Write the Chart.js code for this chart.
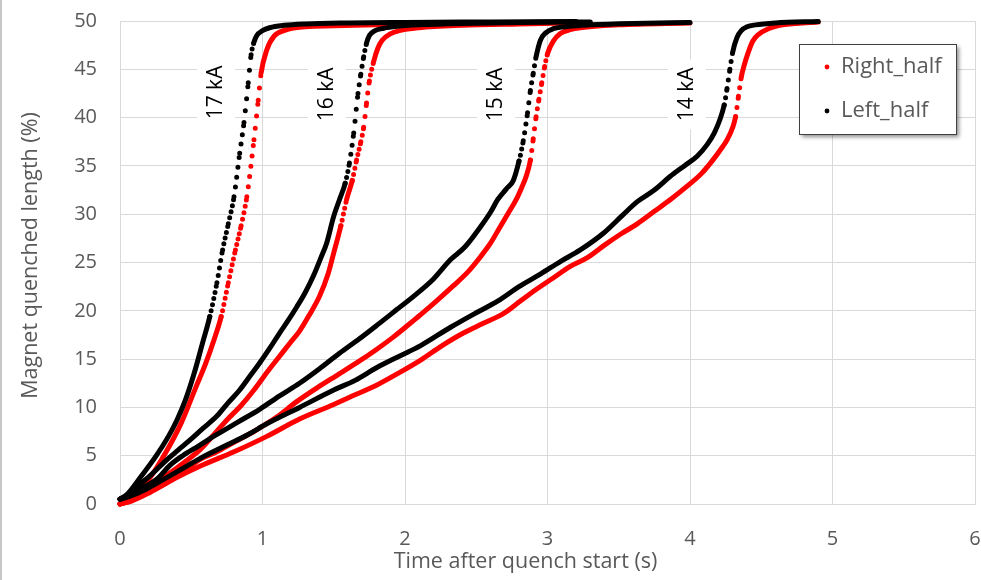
<!DOCTYPE html>
<html lang="en">
<head>
<meta charset="UTF-8">
<title>Quench propagation</title>
<script src="https://cdn.jsdelivr.net/npm/chart.js"></script>
<style>
  html, body { margin: 0; padding: 0; background: #fff; }
  #wrap { width: 981px; height: 580px; }
</style>
</head>
<body>
<div id="wrap"><canvas id="quenchChart" width="981" height="580"></canvas></div>
<script>
// time (s) and quenched length (%), one pair of arrays per curve
const t17R = [0, 0.05, 0.12, 0.20, 0.32, 0.43, 0.53, 0.60, 0.66, 0.71, 0.76, 0.81, 0.85, 0.89, 0.94, 0.97, 0.99, 1.03, 1.08, 1.17, 1.3, 1.5, 1.8, 2.2, 2.6, 3.2];
const q17R = [0, 0.3, 1.2, 2.5, 5.3, 8.4, 12.0, 14.5, 17.0, 19.4, 22.9, 26.3, 28.8, 31.8, 37.7, 41.8, 44.6, 47.0, 48.4, 49.1, 49.4, 49.5, 49.6, 49.7, 49.8, 49.85];
const t17L = [0, 0.05, 0.15, 0.25, 0.34, 0.40, 0.46, 0.52, 0.58, 0.63, 0.68, 0.72, 0.76, 0.80, 0.84, 0.87, 0.90, 0.92, 0.94, 0.96, 1.00, 1.05, 1.15, 1.3, 1.6, 2.0, 2.6, 3.2];
const q17L = [0.5, 1.0, 2.9, 4.9, 7.0, 8.7, 10.8, 13.5, 16.7, 19.4, 22.9, 26.3, 29.0, 31.8, 36.3, 39.5, 43.6, 46.5, 47.8, 48.5, 49.0, 49.3, 49.55, 49.7, 49.8, 49.85, 49.9, 49.95];

const t16R = [0, 0.06, 0.15, 0.25, 0.33, 0.45, 0.56, 0.66, 0.75, 0.85, 0.94, 1.04, 1.12, 1.20, 1.26, 1.33, 1.40, 1.46, 1.50, 1.55, 1.59, 1.63, 1.66, 1.69, 1.71, 1.73, 1.75, 1.78, 1.81, 1.84, 1.90, 1.96, 2.1, 2.4, 2.8, 3.3];
const q16R = [0, 0.3, 1.2, 2.2, 3.0, 4.3, 5.6, 7.2, 8.7, 10.2, 11.8, 13.8, 15.3, 16.8, 17.9, 19.6, 21.5, 23.8, 26.0, 28.8, 31.5, 33.5, 35.6, 37.5, 39.0, 41.5, 43.8, 45.8, 47.2, 48.0, 48.7, 49.0, 49.3, 49.55, 49.7, 49.85];
const t16L = [0, 0.05, 0.12, 0.21, 0.33, 0.41, 0.49, 0.58, 0.68, 0.76, 0.84, 0.92, 0.98, 1.05, 1.12, 1.18, 1.24, 1.30, 1.36, 1.41, 1.45, 1.50, 1.54, 1.58, 1.61, 1.64, 1.67, 1.69, 1.71, 1.73, 1.75, 1.79, 1.85, 1.95, 2.1, 2.4, 2.8, 3.3];
const q16L = [0.5, 0.9, 1.8, 2.9, 4.6, 5.6, 6.6, 7.8, 9.1, 10.5, 11.8, 13.4, 14.6, 16.1, 17.7, 19.0, 20.4, 21.9, 23.7, 25.5, 27.0, 29.8, 31.5, 33.2, 35.3, 38.4, 42.5, 44.5, 46.3, 47.7, 48.5, 49.0, 49.25, 49.45, 49.6, 49.75, 49.85, 49.9];

const t15R = [0, 0.07, 0.18, 0.33, 0.45, 0.56, 0.68, 0.79, 0.95, 1.10, 1.24, 1.38, 1.52, 1.66, 1.80, 1.92, 2.02, 2.11, 2.22, 2.34, 2.44, 2.53, 2.60, 2.66, 2.72, 2.78, 2.82, 2.85, 2.88, 2.90, 2.92, 2.94, 2.96, 2.98, 3.00, 3.04, 3.09, 3.16, 3.23, 3.5, 4.0];
const q15R = [0, 0.3, 1.1, 2.2, 3.4, 4.6, 5.4, 6.3, 7.6, 9.0, 10.6, 12.0, 13.3, 14.6, 16.0, 17.3, 18.5, 19.6, 21.0, 22.6, 24.0, 25.6, 27.0, 28.5, 30.0, 31.5, 32.8, 33.9, 35.6, 37.8, 40.1, 41.9, 43.6, 45.3, 46.6, 47.9, 48.7, 49.1, 49.3, 49.6, 49.8];
const t15L = [0, 0.06, 0.15, 0.26, 0.35, 0.44, 0.55, 0.68, 0.83, 0.98, 1.12, 1.26, 1.40, 1.54, 1.68, 1.82, 1.94, 2.06, 2.20, 2.32, 2.42, 2.53, 2.60, 2.65, 2.71, 2.76, 2.80, 2.83, 2.86, 2.88, 2.90, 2.92, 2.95, 2.99, 3.04, 3.15, 3.3, 3.6, 4.0];
const q15L = [0.5, 0.8, 1.6, 2.6, 4.0, 5.0, 6.0, 7.2, 8.5, 9.8, 11.2, 12.5, 14.0, 15.6, 17.1, 18.7, 20.1, 21.5, 23.3, 25.3, 26.6, 28.7, 30.2, 31.5, 32.6, 33.5, 35.5, 37.6, 40.5, 42.8, 44.6, 46.3, 48.0, 48.8, 49.2, 49.45, 49.6, 49.75, 49.85];

const t14R = [0, 0.08, 0.21, 0.38, 0.56, 0.80, 1.03, 1.26, 1.50, 1.65, 1.80, 1.96, 2.11, 2.25, 2.41, 2.55, 2.69, 2.80, 2.92, 3.04, 3.16, 3.28, 3.40, 3.52, 3.63, 3.75, 3.87, 3.98, 4.08, 4.16, 4.22, 4.26, 4.30, 4.32, 4.34, 4.36, 4.38, 4.41, 4.44, 4.48, 4.55, 4.65, 4.9];
const q14R = [0, 0.3, 1.2, 2.6, 3.9, 5.4, 7.0, 8.8, 10.3, 11.3, 12.3, 13.6, 14.9, 16.3, 17.7, 18.7, 19.7, 20.9, 22.2, 23.4, 24.6, 25.5, 26.8, 28.0, 29.0, 30.3, 31.6, 32.9, 34.2, 35.6, 36.8, 37.7, 39.0, 40.1, 42.2, 44.2, 45.4, 46.8, 47.9, 48.6, 49.2, 49.6, 49.9];
const t14L = [0, 0.07, 0.18, 0.30, 0.42, 0.56, 0.75, 0.90, 1.03, 1.26, 1.50, 1.65, 1.80, 1.96, 2.11, 2.32, 2.50, 2.65, 2.80, 2.95, 3.09, 3.23, 3.39, 3.52, 3.63, 3.75, 3.86, 3.96, 4.05, 4.12, 4.17, 4.21, 4.24, 4.26, 4.28, 4.30, 4.33, 4.36, 4.40, 4.46, 4.6, 4.9];
const q14L = [0.5, 0.8, 1.5, 2.5, 3.5, 4.7, 6.1, 7.2, 8.3, 10.0, 11.8, 12.8, 14.1, 15.3, 16.4, 18.3, 19.8, 21.0, 22.5, 23.8, 25.1, 26.3, 28.0, 29.8, 31.3, 32.5, 33.9, 35.0, 36.0, 37.2, 38.4, 39.8, 41.3, 43.0, 45.0, 46.8, 48.3, 49.0, 49.4, 49.6, 49.8, 49.95];

const xTicks = [0, 1, 2, 3, 4, 5, 6];
const yTicks = [0, 5, 10, 15, 20, 25, 30, 35, 40, 45, 50];
const currentLabels = ['17 kA', '16 kA', '15 kA', '14 kA'];
const legendLabels = ['Right_half', 'Left_half'];
const xTitle = 'Time after quench start (s)';
const yTitle = 'Magnet quenched length (%)';

const RED = '#ff0000';
const BLACK = '#000000';
const GREY_TEXT = '#595959';
const GRID = '#d9d9d9';
const FONT = "'Open Sans', sans-serif";

// where each current label sits (data units)
const labelAt = [[0.674, 42.6], [1.453, 42.4], [2.639, 42.4], [3.979, 42.4]];

// the logger wrote a sample about every 9 ms, so fast parts show up as loose dots
const SAMPLE_STEP = 0.009;

function pairs(t, q) {
    return t.map((x, i) => ({ x: x, y: q[i] }));
}

function dotted(c) {
    const dt = c.p1.parsed.x - c.p0.parsed.x;
    if (!(dt > 0)) return undefined;
    const len = Math.hypot(c.p1.x - c.p0.x, c.p1.y - c.p0.y);
    const gap = len / dt * SAMPLE_STEP;
    return gap > 5.5 ? [0, gap] : undefined;
}

function curve(t, q, color) {
    return {
        data: pairs(t, q),
        showLine: true,
        borderColor: color,
        backgroundColor: color,
        borderWidth: 5,
        borderCapStyle: 'round',
        borderJoinStyle: 'round',
        cubicInterpolationMode: 'monotone',
        pointRadius: 0,
        pointHoverRadius: 0,
        clip: false,
        segment: { borderDash: dotted }
    };
}

// black first so it sits on top, like the original
const datasets = [
    curve(t17L, q17L, BLACK),
    curve(t16L, q16L, BLACK),
    curve(t15L, q15L, BLACK),
    curve(t14L, q14L, BLACK),
    curve(t17R, q17R, RED),
    curve(t16R, q16R, RED),
    curve(t15R, q15R, RED),
    curve(t14R, q14R, RED)
];

const decor = {
    id: 'decor',
    beforeDatasetsDraw(chart) {
        const ctx = chart.ctx;
        const xs = chart.scales.x, ys = chart.scales.y;
        ctx.save();
        ctx.font = '21px ' + FONT;
        ctx.textAlign = 'center';
        ctx.textBaseline = 'middle';
        currentLabels.forEach((txt, i) => {
            const px = xs.getPixelForValue(labelAt[i][0]);
            const py = ys.getPixelForValue(labelAt[i][1]);
            const w = ctx.measureText(txt).width;
            ctx.save();
            ctx.translate(px, py);
            ctx.rotate(-Math.PI / 2);
            ctx.fillStyle = '#fff';
            ctx.fillRect(-w / 2 - 8, -19, w + 16, 38);
            ctx.fillStyle = '#000';
            ctx.fillText(txt, 0, 0);
            ctx.restore();
        });
        ctx.restore();
    },
    afterDraw(chart) {
        const ctx = chart.ctx;
        const area = chart.chartArea;

        // axis titles (Excel puts them a little off the plot centre)
        ctx.save();
        ctx.fillStyle = GREY_TEXT;
        ctx.font = '21.5px ' + FONT;
        ctx.textAlign = 'center';
        ctx.textBaseline = 'middle';
        ctx.fillText(xTitle, (area.left + area.right) / 2 - 22, 562);
        ctx.translate(31, (area.top + area.bottom) / 2 - 7);
        ctx.rotate(-Math.PI / 2);
        ctx.fillText(yTitle, 0, 0);
        ctx.restore();

        // legend box
        const bx = 799, by = 44, bw = 157, bh = 90;
        ctx.save();
        ctx.shadowColor = 'rgba(0,0,0,0.45)';
        ctx.shadowBlur = 4;
        ctx.shadowOffsetX = 3;
        ctx.shadowOffsetY = 3;
        ctx.fillStyle = '#fff';
        ctx.fillRect(bx, by, bw, bh);
        ctx.restore();

        ctx.save();
        ctx.strokeStyle = '#404040';
        ctx.lineWidth = 1;
        ctx.strokeRect(bx + 0.5, by + 0.5, bw, bh);
        const colors = [RED, BLACK];
        const rows = [67, 111];
        ctx.font = '22px ' + FONT;
        ctx.textBaseline = 'middle';
        ctx.textAlign = 'left';
        legendLabels.forEach((txt, i) => {
            ctx.fillStyle = colors[i];
            ctx.beginPath();
            ctx.arc(827, rows[i], 2.4, 0, Math.PI * 2);
            ctx.fill();
            ctx.fillStyle = GREY_TEXT;
            ctx.fillText(txt, 841, rows[i]);
        });

        // thin frame edge on the left of the picture
        ctx.fillStyle = '#c6c6c6';
        ctx.fillRect(0, 0, 2, chart.height);
        ctx.restore();
    }
};

Chart.defaults.font.family = FONT;

new Chart(document.getElementById('quenchChart'), {
    type: 'scatter',
    data: { datasets: datasets },
    options: {
        responsive: false,
        animation: false,
        devicePixelRatio: 1,
        layout: { padding: { top: 21, right: 6, left: 0, bottom: 0 } },
        plugins: {
            legend: { display: false },
            tooltip: { enabled: false }
        },
        scales: {
            x: {
                type: 'linear',
                min: 0,
                max: 6,
                afterBuildTicks: s => { s.ticks = xTicks.map(v => ({ value: v })); },
                afterFit: s => {
                    s.height = 76;
                    s.paddingLeft = 0;
                    s.paddingRight = 0;
                },
                ticks: { color: GREY_TEXT, font: { size: 20 }, padding: 23 },
                grid: { color: GRID, drawTicks: false },
                border: { color: GRID }
            },
            y: {
                min: 0,
                max: 50,
                afterBuildTicks: s => { s.ticks = yTicks.map(v => ({ value: v })); },
                afterFit: s => {
                    s.width = 120;
                    s.paddingTop = 0;
                    s.paddingBottom = 0;
                },
                ticks: { color: GREY_TEXT, font: { size: 20 }, padding: 23 },
                grid: { color: GRID, drawTicks: false },
                border: { color: GRID }
            }
        }
    },
    plugins: [decor]
});
</script>
</body>
</html>
